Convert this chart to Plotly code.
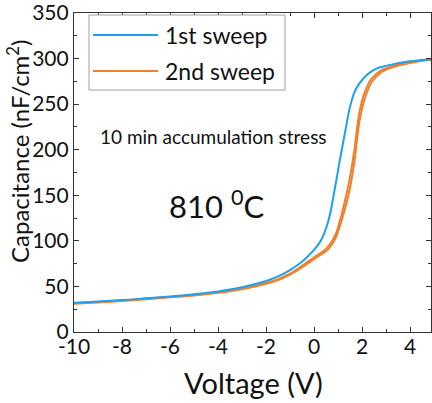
import plotly.graph_objects as go

# Data
blue_v = [-10, -9, -8, -7, -6, -5, -4, -3, -2, -1.5, -1, -0.5, 0, 0.3, 0.6, 0.9, 1.1, 1.3, 1.5, 1.7, 1.9, 2.2, 2.6, 3.0, 3.5, 4.0, 4.5, 5]
blue_c = [32, 33.5, 35, 37, 39, 41.5, 44.5, 49, 56, 61, 68, 77, 90, 101, 122, 162, 192, 220, 247, 264, 273, 282, 289, 292, 295, 297, 298.5, 299]

orange_v = [-10, -9, -8, -7, -6, -5, -4, -3, -2, -1.5, -1, -0.5, 0, 0.3, 0.6, 0.9, 1.1, 1.3, 1.5, 1.7, 1.8, 1.9, 2.1, 2.4, 2.8, 3.2, 3.6, 4.0, 4.5, 5]
orange_c = [31, 32.5, 34, 36, 38, 40, 43, 47, 53, 57, 63, 71, 80, 85, 91, 103, 118, 136, 158, 190, 213, 232, 255, 274, 285, 290, 293, 295, 297.5, 299]
orange2_c = [31.5, 33, 34.5, 36.5, 38.5, 40.5, 43.5, 47.5, 54, 58, 64, 72.5, 82, 87, 94, 107, 124, 145, 170, 203, 225, 242, 262, 278, 287, 291, 294, 296, 298, 299]

x_ticks = [-10, -8, -6, -4, -2, 0, 2, 4]
y_ticks = [0, 50, 100, 150, 200, 250, 300, 350]
legend_labels = ["1st sweep", "2nd sweep"]
x_title = "Voltage (V)"
y_title = "Capacitance (nF/cm<sup>2</sup>)"

BLUE = "#1BA1F2"
ORANGE = "#F0802E"
FONT = "Lato"
TXT = "#111"

fig = go.Figure()
fig.add_trace(go.Scatter(x=orange_v, y=orange2_c, mode="lines", line=dict(color=ORANGE, width=2, shape="spline"), showlegend=False))
fig.add_trace(go.Scatter(x=orange_v, y=orange_c, mode="lines", line=dict(color=ORANGE, width=2, shape="spline"), showlegend=False))
fig.add_trace(go.Scatter(x=blue_v, y=blue_c, mode="lines", line=dict(color=BLUE, width=2, shape="spline"), showlegend=False))

L, R, T, B = 74, 431, 13, 332
W, H = R - L, B - T

def px(x):
    return (x - L) / W

def py(y):
    return (B - y) / H

# manual legend
shapes = [
    dict(type="rect", xref="paper", yref="paper", x0=px(89), x1=px(285), y0=py(90), y1=py(15),
         line=dict(color="#A0A0A0", width=1), fillcolor="white", layer="above"),
    dict(type="line", xref="paper", yref="paper", x0=px(93), x1=px(158), y0=py(35), y1=py(35),
         line=dict(color=BLUE, width=2), layer="above"),
    dict(type="line", xref="paper", yref="paper", x0=px(93), x1=px(158), y0=py(71), y1=py(71),
         line=dict(color=ORANGE, width=2), layer="above"),
]
annotations = [
    dict(xref="paper", yref="paper", x=px(163), y=py(35), text=legend_labels[0], showarrow=False,
         xanchor="left", yanchor="middle", font=dict(family=FONT, size=23, color=TXT)),
    dict(xref="paper", yref="paper", x=px(163), y=py(71), text=legend_labels[1], showarrow=False,
         xanchor="left", yanchor="middle", font=dict(family=FONT, size=23, color=TXT)),
    dict(xref="paper", yref="paper", x=px(213), y=py(136), text="10 min accumulation stress", showarrow=False,
         xanchor="center", yanchor="middle", font=dict(family=FONT, size=19, color=TXT)),
    dict(xref="paper", yref="paper", x=px(216), y=py(204), text="810 <sup>0</sup>C", showarrow=False,
         xanchor="center", yanchor="middle", font=dict(family=FONT, size=31, color=TXT)),
    dict(xref="paper", yref="paper", x=px(253), y=py(382), text=x_title, showarrow=False,
         xanchor="center", yanchor="middle", font=dict(family=FONT, size=29, color=TXT)),
    dict(xref="paper", yref="paper", x=px(18), y=py(151), text=y_title, showarrow=False, textangle=-90,
         xanchor="center", yanchor="middle", font=dict(family=FONT, size=24, color=TXT)),
]

axis_common = dict(showline=True, linecolor="#333", linewidth=1.2, mirror="ticks", ticks="inside",
                   ticklen=5, tickcolor="#333", showgrid=False, zeroline=False, automargin=False,
                   ticklabeloverflow="allow",
                   tickfont=dict(family=FONT, size=21, color=TXT))

fig.update_layout(
    width=432, height=403,
    margin=dict(l=L, r=432 - R, t=T, b=403 - B),
    plot_bgcolor="white", paper_bgcolor="white",
    showlegend=False,
    shapes=shapes, annotations=annotations,
    xaxis=dict(range=[-10, (R - 314) / 24.0], tickvals=x_ticks, ticktext=[str(v) for v in x_ticks],
               minor=dict(ticks="inside", ticklen=3, dtick=1, tick0=0, tickcolor="#333"),
               ticklabelstandoff=-4,
               **axis_common),
    yaxis=dict(range=[0, 350], tickvals=y_ticks, ticktext=[str(v) for v in y_ticks],
               minor=dict(ticks="inside", ticklen=3, dtick=25, tick0=0, tickcolor="#333"),
               **axis_common),
)

fig.write_html("out.html", config={"displayModeBar": False},
               post_script="document.body.style.margin='0';")
